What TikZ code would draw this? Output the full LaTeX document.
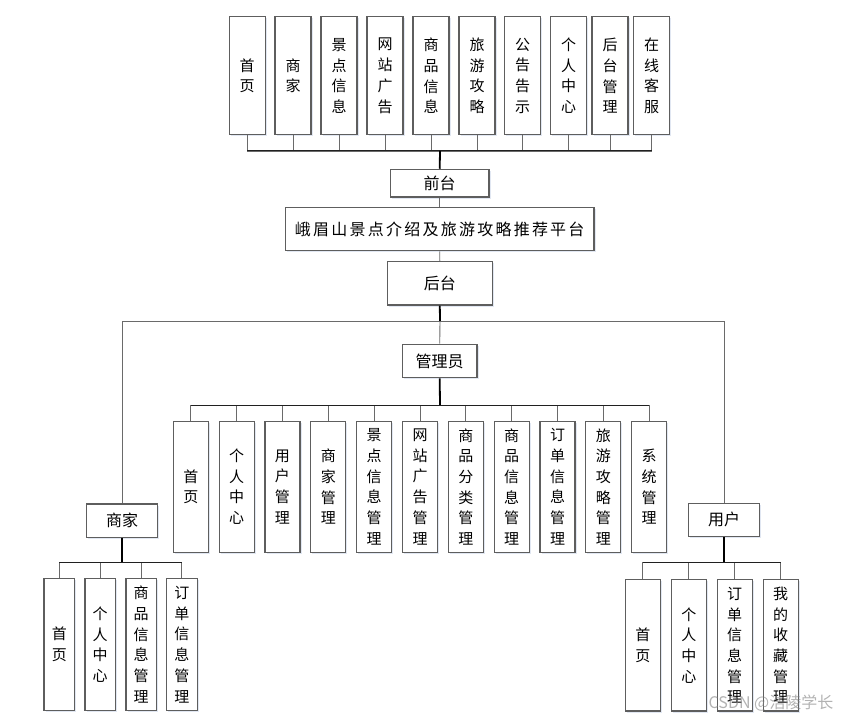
\documentclass[tikz,border=0pt]{standalone}
\usepackage{fontspec}
\setmainfont{Noto Sans CJK SC}
\usetikzlibrary{shadows}
\definecolor{boxline}{HTML}{5E5E5E}
\definecolor{stemline}{HTML}{6A6A6A}
\definecolor{busline}{HTML}{202020}
\definecolor{shadowc}{HTML}{C8D4E8}
\tikzset{
  basebox/.style={draw=boxline, line width=1.2pt, fill=white, inner sep=0pt,
    drop shadow={shadow xshift=1.6pt, shadow yshift=-1.6pt, fill=shadowc, opacity=0.55}},
  vbox/.style={basebox, align=center, font=\fontsize{15}{20.7}\selectfont},
  topbox/.style={vbox, minimum width=36pt, minimum height=118pt},
  admbox/.style={vbox, minimum width=35pt, minimum height=131pt},
  merbox/.style={vbox, minimum width=30.5pt, minimum height=131.6pt},
  usrbox/.style={vbox, minimum width=35pt, minimum height=131.3pt},
  hbox/.style={basebox, font=\fontsize{16}{18}\selectfont},
  stem/.style={draw=stemline, line width=0.9pt},
  bus/.style={draw=busline, line width=1pt},
  trunk/.style={draw=black, line width=1.8pt},
}
\begin{document}
\begin{tikzpicture}[x=1pt,y=-1pt]
\useasboundingbox (0,0) rectangle (856,722);
% top row
\node[topbox] (t1) at (247.2,75.8) {首\\页};
\node[topbox] (t2) at (293,75.8) {商\\家};
\node[topbox] (t3) at (339,75.8) {景\\点\\信\\息};
\node[topbox] (t4) at (385,75.8) {网\\站\\广\\告};
\node[topbox] (t5) at (431,75.8) {商\\品\\信\\息};
\node[topbox] (t6) at (477,75.8) {旅\\游\\攻\\略};
\node[topbox] (t7) at (522.7,75.8) {公\\告\\告\\示};
\node[topbox] (t8) at (568.5,75.8) {个\\人\\中\\心};
\node[topbox] (t9) at (610,75.8) {后\\台\\管\\理};
\node[topbox] (t10) at (651.7,75.8) {在\\线\\客\\服};
\coordinate (tbus) at (440,151);
\foreach \i in {1,...,10} {\draw[stem] (t\i.south) -- ++(0,0) |- (tbus);}
\draw[bus] (t1.south |- tbus) -- (t10.south |- tbus);
% centre column
\node[hbox, minimum width=98.7pt, minimum height=27.7pt] (qt) at (439.7,183.2) {前台};
\node[hbox, minimum width=308.7pt, minimum height=43.4pt] (pf) at (439.7,229) {\addfontfeature{LetterSpace=14}峨眉山景点介绍及旅游攻略推荐平台};
\node[hbox, minimum width=105pt, minimum height=43.7pt] (ht) at (439.8,283.2) {后台};
\draw[trunk] (tbus) -- (qt.north);
\draw[stem] (qt.south) -- (pf.north);
\draw[stem] (pf.south) -- (ht.north);
% roles
\node[hbox, minimum width=74.7pt, minimum height=33.4pt] (adm) at (439.7,361) {管理员};
\node[hbox, minimum width=71pt, minimum height=33.3pt] (mer) at (122.2,520.7) {商家};
\node[hbox, minimum width=71pt, minimum height=33pt] (usr) at (724,519.7) {用户};
\coordinate (rbus) at (440,321.7);
\draw[trunk] (ht.south) -- (rbus);
\draw[stem] (rbus) -- (adm.north);
\draw[stem] (rbus) -| (mer.north);
\draw[stem] (rbus) -| (usr.north);
% admin children
\foreach \lab [count=\i from 0] in {首\\页, 个\\人\\中\\心, 用\\户\\管\\理, 商\\家\\管\\理, 景\\点\\信\\息\\管\\理, 网\\站\\广\\告\\管\\理, 商\\品\\分\\类\\管\\理, 商\\品\\信\\息\\管\\理, 订\\单\\信\\息\\管\\理, 旅\\游\\攻\\略\\管\\理, 系\\统\\管\\理} {
  \node[admbox] (a\i) at ({190.8+45.84*\i},486.8) {\lab};
}
\coordinate (abus) at (440,405);
\draw[trunk] (adm.south) -- (abus);
\foreach \i in {0,...,10} {\draw[stem] (a\i.north) |- (abus);}
\draw[bus] (a0.north |- abus) -- (a10.north |- abus);
% merchant children
\node[merbox] (m1) at (59.3,644.5) {首\\页};
\node[merbox] (m2) at (100.2,644.5) {个\\人\\中\\心};
\node[merbox] (m3) at (141.2,644.5) {商\\品\\信\\息\\管\\理};
\node[merbox] (m4) at (181.9,644.5) {订\\单\\信\\息\\管\\理};
\coordinate (mbus) at (122.2,562.3);
\draw[trunk] (mer.south) -- (mbus);
\foreach \i in {1,...,4} {\draw[stem] (m\i.north) |- (mbus);}
\draw[bus] (m1.north |- mbus) -- (m4.north |- mbus);
% user children
\node[usrbox] (u1) at (642.8,645.3) {首\\页};
\node[usrbox] (u2) at (688.8,645.3) {个\\人\\中\\心};
\node[usrbox] (u3) at (734.7,645.3) {订\\单\\信\\息\\管\\理};
\node[usrbox] (u4) at (780.7,645.3) {我\\的\\收\\藏\\管\\理};
\coordinate (ubus) at (724,562.3);
\draw[trunk] (usr.south) -- (ubus);
\foreach \i in {1,...,4} {\draw[stem] (u\i.north) |- (ubus);}
\draw[bus] (u1.north |- ubus) -- (u4.north |- ubus);
% watermark
\node[text=gray, opacity=0.6, font=\fontsize{16}{18}\selectfont, inner sep=0pt] (wm) at (771,703) {CSDN @浩陵学长};
\end{tikzpicture}
\end{document}
